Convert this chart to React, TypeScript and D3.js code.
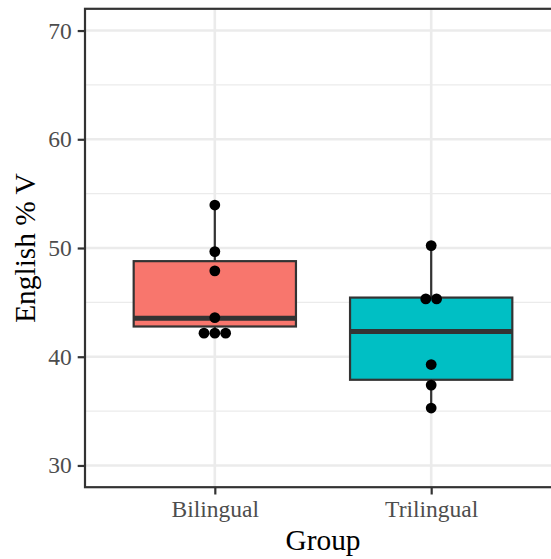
import { useEffect, useRef } from "react";
import * as d3 from "d3";

const groups = ["Bilingual", "Trilingual"];
const fills = ["#F8766D", "#00BFC4"];
// individual scores (as plotted)
const bilingualScores = [53.95, 49.67, 47.9, 43.6, 42.17, 42.17, 42.17];
const trilingualScores = [50.22, 45.32, 45.32, 39.28, 37.39, 35.28];
// boxplot stats: lower whisker, q1, median, q3, upper whisker
const bilingualBox = [42.17, 42.78, 43.55, 48.79, 53.95];
const trilingualBox = [35.28, 37.88, 42.32, 45.44, 50.22];
const yTicks = [30, 40, 50, 60, 70];
const yMinor = [35, 45, 55, 65];

const W = 551;
const H = 559;

export default function App() {
  const svgRef = useRef<SVGSVGElement>(null);

  useEffect(() => {
    const svg = d3.select(svgRef.current);
    svg.selectAll("*").remove();

    const left = 85, right = 561, top = 8.8, bottom = 487.2;
    const x = d3.scalePoint<string>().domain(groups).range([left, right]).padding(0.6);
    const y = d3.scaleLinear().domain([28, 72]).range([bottom, top]);
    const step = x.step();
    const boxW = step * 0.75;
    const dark = "#333333";

    svg.append("rect")
      .attr("x", left).attr("y", top)
      .attr("width", right - left).attr("height", bottom - top)
      .attr("fill", "white");

    // grid
    const grid = svg.append("g").attr("stroke", "#EBEBEB");
    grid.selectAll(".minor").data(yMinor).join("line")
      .attr("x1", left).attr("x2", right)
      .attr("y1", (d) => y(d)).attr("y2", (d) => y(d))
      .attr("stroke-width", 1.3);
    grid.selectAll(".major").data(yTicks).join("line")
      .attr("x1", left).attr("x2", right)
      .attr("y1", (d) => y(d)).attr("y2", (d) => y(d))
      .attr("stroke-width", 2.6);
    grid.selectAll(".vmajor").data(groups).join("line")
      .attr("y1", top).attr("y2", bottom)
      .attr("x1", (d) => x(d)!).attr("x2", (d) => x(d)!)
      .attr("stroke-width", 2.6);

    const boxes = [bilingualBox, trilingualBox];
    const scores = [bilingualScores, trilingualScores];

    groups.forEach((g, i) => {
      const cx = x(g)!;
      const [lo, q1, med, q3, hi] = boxes[i];
      const gg = svg.append("g");
      gg.append("line").attr("x1", cx).attr("x2", cx)
        .attr("y1", y(q3)).attr("y2", y(hi))
        .attr("stroke", dark).attr("stroke-width", 2.2);
      gg.append("line").attr("x1", cx).attr("x2", cx)
        .attr("y1", y(q1)).attr("y2", y(lo))
        .attr("stroke", dark).attr("stroke-width", 2.2);
      gg.append("rect")
        .attr("x", cx - boxW / 2).attr("y", y(q3))
        .attr("width", boxW).attr("height", y(q1) - y(q3))
        .attr("fill", fills[i]).attr("stroke", dark).attr("stroke-width", 2.2);
      gg.append("line")
        .attr("x1", cx - boxW / 2).attr("x2", cx + boxW / 2)
        .attr("y1", y(med)).attr("y2", y(med))
        .attr("stroke", dark).attr("stroke-width", 5);

      // stack tied points side by side
      const r = 5.4;
      const counts = d3.rollup(scores[i], (v) => v.length, (d) => d);
      const seen = new Map<number, number>();
      scores[i].forEach((v) => {
        const n = counts.get(v)!;
        const k = seen.get(v) ?? 0;
        seen.set(v, k + 1);
        gg.append("circle")
          .attr("cx", cx + (k - (n - 1) / 2) * r * 2)
          .attr("cy", y(v))
          .attr("r", r)
          .attr("fill", "black");
      });
    });

    // panel border
    svg.append("rect")
      .attr("x", left).attr("y", top)
      .attr("width", right - left).attr("height", bottom - top)
      .attr("fill", "none").attr("stroke", dark).attr("stroke-width", 2.2);

    // y axis
    const yAxis = svg.append("g")
      .attr("transform", `translate(${left},0)`)
      .call(d3.axisLeft(y).tickValues(yTicks).tickSize(7.3).tickPadding(5.9));
    yAxis.select(".domain").remove();
    yAxis.selectAll("line").attr("stroke", dark).attr("stroke-width", 2.2);
    yAxis.selectAll("text")
      .attr("fill", "#4D4D4D")
      .attr("font-family", "Liberation Serif")
      .attr("font-size", 23.5);

    // x axis
    const xAxis = svg.append("g")
      .attr("transform", `translate(0,${bottom})`)
      .call(d3.axisBottom(x).tickSize(7.3).tickPadding(5.9));
    xAxis.select(".domain").remove();
    xAxis.selectAll("line").attr("stroke", dark).attr("stroke-width", 2.2);
    xAxis.selectAll("text")
      .attr("fill", "#4D4D4D")
      .attr("font-family", "Liberation Serif")
      .attr("font-size", 23.5);

    svg.append("text")
      .attr("x", (left + right) / 2).attr("y", 550)
      .attr("text-anchor", "middle")
      .attr("font-family", "Liberation Serif")
      .attr("font-size", 29.4)
      .text("Group");

    svg.append("text")
      .attr("transform", `translate(35,${(top + bottom) / 2}) rotate(-90)`)
      .attr("text-anchor", "middle")
      .attr("font-family", "Liberation Serif")
      .attr("font-size", 29.4)
      .text("English % V");
  }, []);

  return (
    <div style={{ position: "absolute", left: 0, top: 0 }}>
      <svg ref={svgRef} width={W} height={H} style={{ display: "block", background: "white" }}></svg>
    </div>
  );
}
